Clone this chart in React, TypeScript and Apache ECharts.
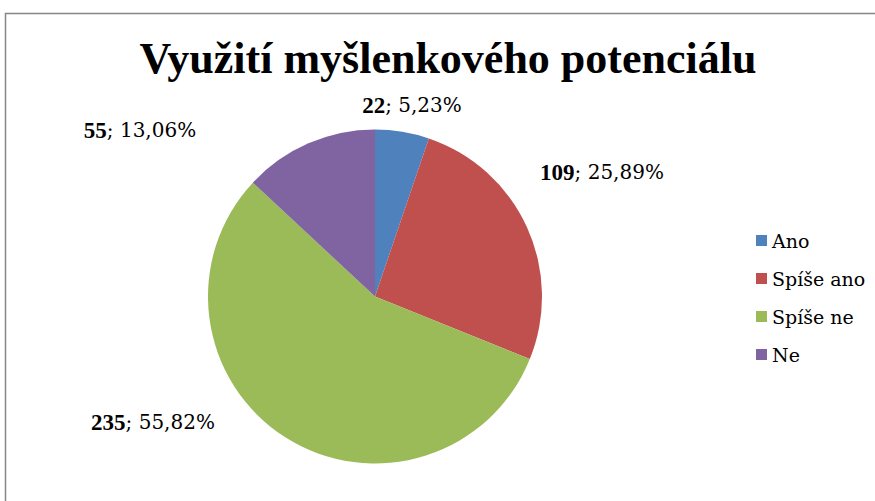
import React, { useEffect, useRef } from "react";
import * as echarts from "echarts";

const TITLE = "Využití myšlenkového potenciálu";
const CATEGORIES = ["Ano", "Spíše ano", "Spíše ne", "Ne"];
const VALUES = [22, 109, 235, 55];
const PERCENT_LABELS = ["5,23%", "25,89%", "55,82%", "13,06%"];
const COLORS = ["#4F81BD", "#C0504D", "#9BBB59", "#8064A2"];
// label anchor points (text centres), Excel "best fit" placement
const LABEL_ANCHORS: [number, number][] = [
  [412, 105],
  [602, 172],
  [153, 422],
  [140, 130],
];

export default function App() {
  const ref = useRef<HTMLDivElement>(null);
  useEffect(() => {
    if (!ref.current) return;
    const chart = echarts.init(ref.current, undefined, { renderer: "svg" });
    const boldFont = "Liberation Serif";
    const regFont = "DejaVu Serif";
    chart.setOption({
      animation: false,
      backgroundColor: "#ffffff",
      textStyle: { fontFamily: regFont },
      title: {
        text: TITLE,
        left: 443,
        textAlign: "center",
        top: 31,
        textStyle: {
          fontFamily: boldFont,
          fontSize: 44,
          fontWeight: "bold",
          color: "#000",
        },
      },
      legend: {
        orient: "vertical",
        left: 751,
        top: 226,
        itemWidth: 11,
        itemHeight: 11,
        itemGap: 19,
        icon: "rect",
        data: CATEGORIES,
        textStyle: { fontFamily: regFont, fontSize: 19, color: "#000" },
      },
      graphic: [
        {
          type: "rect",
          shape: { x: 5.5, y: 13.5, width: 900, height: 520 },
          style: { fill: "none", stroke: "#868686", lineWidth: 1.5 },
          silent: true,
        },
      ],
      series: [
        {
          type: "pie",
          center: [375, 296.5],
          radius: 167,
          startAngle: 90,
          clockwise: true,
          color: COLORS,
          label: {
            show: true,
            position: "outside",
            fontFamily: regFont,
            fontSize: 20,
            color: "#000",
            formatter: (p: any) =>
              `{b|${VALUES[p.dataIndex]}}{r|; ${PERCENT_LABELS[p.dataIndex]}}`,
            rich: {
              b: { fontFamily: boldFont, fontSize: 23, fontWeight: "bold", color: "#000" },
              r: { fontFamily: regFont, fontSize: 20, color: "#000" },
            },
          },
          labelLine: { show: false },
          labelLayout: (params: any) => {
            const a = LABEL_ANCHORS[params.dataIndex];
            return { x: a[0], y: a[1], align: "center", verticalAlign: "middle" };
          },
          emphasis: { disabled: true },
          data: CATEGORIES.map((name, i) => ({ name, value: VALUES[i] })),
        },
      ],
    });
    return () => chart.dispose();
  }, []);
  return (
    <div
      ref={ref}
      style={{ position: "fixed", left: 0, top: 0, width: 875, height: 501, background: "#fff" }}
    />
  );
}
